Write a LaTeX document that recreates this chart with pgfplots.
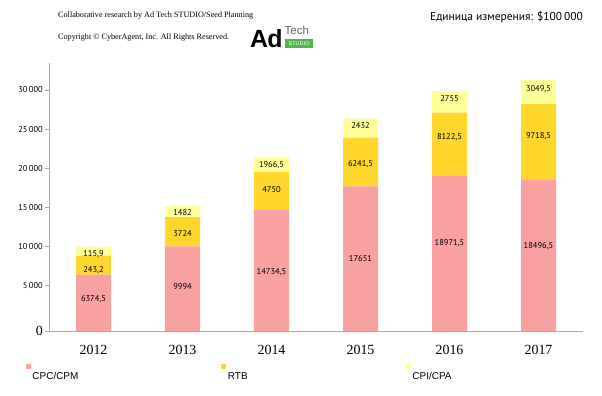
\documentclass[border=0pt]{standalone}
\usepackage{fontspec}
\setmainfont{Liberation Serif}
\newfontfamily\ptsans{PT Sans}
\newfontfamily\arial{Liberation Sans}
\usepackage{pgfplots}
\usepackage{pgfplotstable}
\pgfplotsset{compat=1.18}
\definecolor{cpc}{RGB}{249,160,160}
\definecolor{rtb}{RGB}{255,214,44}
\definecolor{cpi}{RGB}{255,255,153}
\definecolor{axgray}{RGB}{170,170,170}
\definecolor{logogreen}{RGB}{77,184,72}

% segment values (2012 RTB / CPI labels read 243,2 and 115,9; bars drawn as 2432 and 1159)
\pgfplotstableread{
x  cpc      rtb     cpi
0  6374.5   2432    1159
1  9994     3724    1482
2  14734.5  4750    1966.5
3  17651    6241.5  2432
4  18971.5  8122.5  2755
5  18496.5  9718.5  3049.5
}\datatable

% label positions (bp above the baseline) and texts
\pgfplotstableread{
x  ypos   lab
0  31.7   6374,5
0  61     243,2
0  77.3   115,9
1  44.3   9994
1  97     3724
1  118.7  1482
2  59     14734,5
2  141    4750
2  166    1966,5
3  72.7   17651
3  167    6241,5
3  205    2432
4  88     18971,5
4  194    8122,5
4  232    2755
5  85.3   18496,5
5  195    9718,5
5  242    3049,5
}\labtable

\begin{document}
\begin{tikzpicture}
\useasboundingbox (0,0) rectangle (602bp,396bp);

% header texts
\node[anchor=west,inner sep=0pt,font=\fontsize{8.2}{9}\selectfont] at (58bp,380.7bp) {Collaborative research by Ad Tech STUDIO/Seed Planning};
\node[anchor=west,inner sep=0pt,font=\fontsize{8.2}{9}\selectfont] at (58bp,358bp) {Copyright \textcopyright{} CyberAgent, Inc. All Rights Reserved.};
\node[anchor=east,inner sep=0pt,font=\ptsans\fontsize{11.5}{13}\selectfont] at (583bp,379bp) {Единица измерения: \$100\,000};
% logo
\node[anchor=base west,inner sep=0pt,font=\arial\bfseries\fontsize{25}{25}\selectfont] at (250bp,348bp) {A\kern-0.8bp d};
\node[anchor=base west,inner sep=0pt,text=gray!80!black,font=\arial\fontsize{11.5}{11.5}\selectfont] at (284.5bp,361bp) {Tech};
\fill[logogreen] (285bp,348bp) rectangle (313bp,356.5bp);
\node[inner sep=0pt,text=white,font=\arial\fontsize{5.5}{5.5}\selectfont] at (299bp,352.2bp) {STUDIO};

\begin{axis}[
  at={(49bp,65bp)}, anchor=south west,
  scale only axis, width=534bp, height=268bp,
  ybar stacked, bar width=35bp,
  xmin=-0.5, xmax=5.5, ymin=0, ymax=34300,
  axis x line*=bottom, axis y line*=left,
  axis line style={axgray, line width=0.8bp},
  xtick={0,...,5}, xticklabels={2012,2013,2014,2015,2016,2017},
  xtick style={draw=none},
  minor xtick={-0.5,0.5,1.5,2.5,3.5,4.5,5.5},
  minor x tick style={axgray, line width=0.8bp},
  minor tick length=4bp,
  ytick={0,5845,10845,15845,20845,25845,30845},
  yticklabels={{\rmfamily\fontsize{14}{14}\selectfont 0},5\,000,10\,000,15\,000,20\,000,25\,000,30\,000},
  ytick style={axgray, line width=0.8bp},
  major tick length=4bp, tick align=outside,
  yticklabel style={font=\ptsans\fontsize{8.5}{10}\selectfont, inner sep=2bp},
  xticklabel style={font=\rmfamily\fontsize{14}{14}\selectfont, yshift=-7bp},
  scaled y ticks=false,
  legend style={at={(-0.0431,-0.157)}, anchor=west, draw=none, fill=none,
    inner sep=0pt, outer sep=0pt, legend columns=3,
    nodes={inner sep=1bp, font=\arial\fontsize{10}{12}\selectfont},
    /tikz/every odd column/.append style={column sep=0.5bp}},
  legend cell align=left,
  clip=false,
]
\addplot+[draw=none, fill=cpc, y filter/.expression={y+845},
  legend image code/.code={\fill[cpc] (0bp,7.5bp) rectangle (5bp,12.5bp);}]
  table[x=x,y=cpc]{\datatable};
\addlegendentry{\makebox[188bp][l]{CPC/CPM}}
\addplot+[draw=none, fill=rtb,
  legend image code/.code={\fill[rtb] (0bp,7.5bp) rectangle (5bp,12.5bp);}]
  table[x=x,y=rtb]{\datatable};
\addlegendentry{\makebox[177bp][l]{RTB}}
\addplot+[draw=none, fill=cpi,
  legend image code/.code={\fill[cpi] (0bp,7.5bp) rectangle (5bp,12.5bp);}]
  table[x=x,y=cpi]{\datatable};
\addlegendentry{CPI/CPA}
\end{axis}

\begin{axis}[
  at={(49bp,65bp)}, anchor=south west,
  scale only axis, width=534bp, height=268bp,
  xmin=-0.5, xmax=5.5, ymin=0, ymax=268,
  hide axis, clip=false,
]
\addplot[draw=none, mark=none, nodes near coords, point meta=explicit symbolic,
  nodes near coords style={anchor=center, inner sep=0pt, font=\ptsans\fontsize{8.5}{10}\selectfont}]
  table[x=x,y=ypos,meta=lab]{\labtable};
\end{axis}
\end{tikzpicture}
\end{document}
